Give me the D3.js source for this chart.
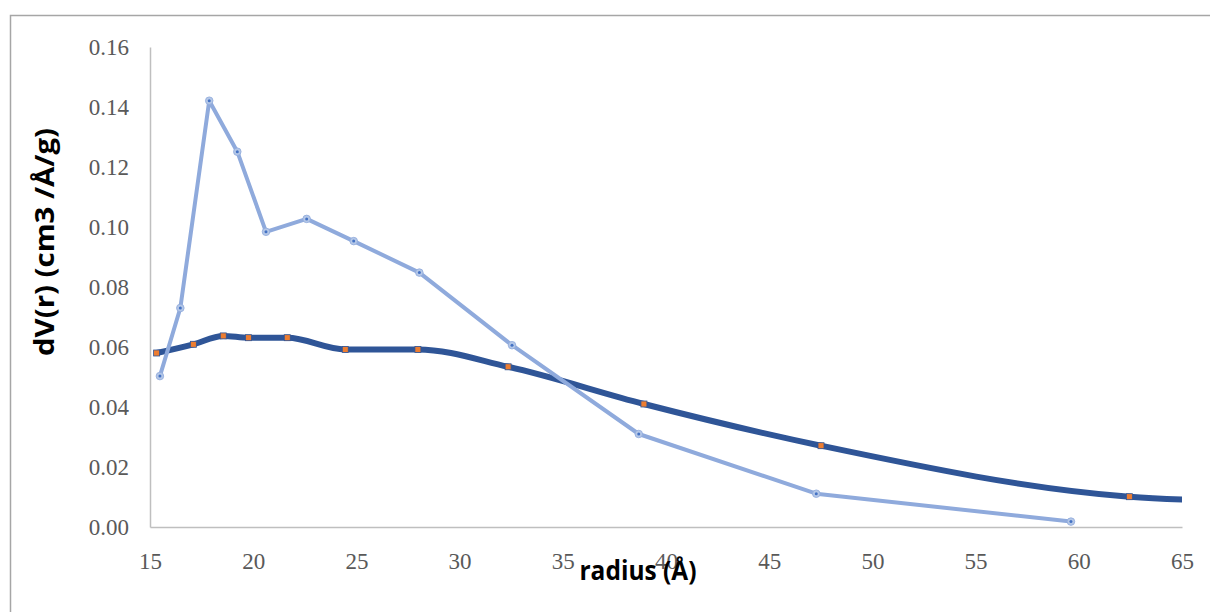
<!DOCTYPE html>
<html>
<head>
<meta charset="utf-8">
<script src="https://cdn.jsdelivr.net/npm/d3@7"></script>
<style>
  body { margin: 0; background: #fff; }
  .tick text { font-family: "Liberation Serif", "Times New Roman", serif; font-size: 23px; fill: #595959; }
  .axis-title { font-family: "Open Sans", "Liberation Sans", sans-serif; font-weight: bold; font-size: 26px; fill: #000; }
</style>
</head>
<body>
<svg id="chart"></svg>
<script>
// light series (circle markers)
const lightX = [15.48, 16.47, 17.87, 19.23, 20.62, 22.59, 24.87, 28.05, 32.54, 38.68, 47.28, 59.62];
const lightY = [0.0503, 0.0730, 0.1421, 0.1251, 0.0984, 0.1027, 0.0953, 0.0848, 0.0606, 0.0310, 0.0111, 0.0018];

// dark series (square markers), last point runs past the axis end
const darkX = [15.32, 17.10, 18.55, 19.77, 21.65, 24.46, 27.98, 32.35, 38.93, 47.51, 62.45, 68.0];
const darkY = [0.0580, 0.0609, 0.0637, 0.0631, 0.0631, 0.0592, 0.0592, 0.0534, 0.0410, 0.0271, 0.0101, 0.0085];

const xTicks = [15, 20, 25, 30, 35, 40, 45, 50, 55, 60, 65];
const yTicks = [0, 0.02, 0.04, 0.06, 0.08, 0.10, 0.12, 0.14, 0.16];

const config = {
    width: 1210,
    height: 612,
    margin: {top: 47, right: 28, bottom: 85, left: 150}
};

const svg = d3.select('#chart')
    .attr('width', config.width)
    .attr('height', config.height);

// outer chart frame (runs off the window on the right and bottom)
svg.append('rect')
    .attr('x', 10.5)
    .attr('y', 15.5)
    .attr('width', 1220)
    .attr('height', 620)
    .attr('fill', 'none')
    .attr('stroke', '#a6a6a6')
    .attr('stroke-width', 1.5);

const innerW = config.width - config.margin.left - config.margin.right;
const innerH = config.height - config.margin.top - config.margin.bottom;

const g = svg.append('g')
    .attr('transform', `translate(${config.margin.left},${config.margin.top})`);

const xScale = d3.scaleLinear().domain([15, 65]).range([0, innerW]);
const yScale = d3.scaleLinear().domain([0, 0.16]).range([innerH, 0]);

const xAxis = d3.axisBottom(xScale).tickValues(xTicks).tickSize(0).tickPadding(26).tickFormat(d3.format('d'));
const yAxis = d3.axisLeft(yScale).tickValues(yTicks).tickSize(0).tickPadding(21).tickFormat(d3.format('.2f'));

g.append('g')
    .attr('class', 'axis x-axis')
    .attr('transform', `translate(0,${innerH})`)
    .call(xAxis)
    .call(a => a.select('.domain').attr('stroke', '#bfbfbf').attr('stroke-width', 1.5));

g.append('g')
    .attr('class', 'axis y-axis')
    .call(yAxis)
    .call(a => a.select('.domain').attr('stroke', '#bfbfbf').attr('stroke-width', 1.5));

// clip marks to plot area
g.append('defs').append('clipPath')
    .attr('id', 'plot-clip')
    .append('rect')
    .attr('x', -10)
    .attr('y', -10)
    .attr('width', innerW + 10)
    .attr('height', innerH + 20);

const plot = g.append('g').attr('clip-path', 'url(#plot-clip)');

const darkData = darkX.map((x, i) => ({x, y: darkY[i]}));
const lightData = lightX.map((x, i) => ({x, y: lightY[i]}));

const darkLine = d3.line()
    .x(d => xScale(d.x))
    .y(d => yScale(d.y))
    .curve(d3.curveMonotoneX);

const lightLine = d3.line()
    .x(d => xScale(d.x))
    .y(d => yScale(d.y));

plot.append('path')
    .datum(darkData)
    .attr('d', darkLine)
    .attr('fill', 'none')
    .attr('stroke', '#2f5597')
    .attr('stroke-width', 6)
    .attr('stroke-linejoin', 'round');

plot.selectAll('.sq')
    .data(darkData.filter(d => d.x <= 65))
    .join('rect')
    .attr('class', 'sq')
    .attr('x', d => xScale(d.x) - 3)
    .attr('y', d => yScale(d.y) - 3)
    .attr('width', 6)
    .attr('height', 6)
    .attr('fill', '#ed7d31')
    .attr('stroke', '#2f5597')
    .attr('stroke-width', 0.8);

plot.append('path')
    .datum(lightData)
    .attr('d', lightLine)
    .attr('fill', 'none')
    .attr('stroke', '#8faadc')
    .attr('stroke-width', 4)
    .attr('stroke-linejoin', 'round');

plot.selectAll('.dot')
    .data(lightData)
    .join('circle')
    .attr('class', 'dot')
    .attr('cx', d => xScale(d.x))
    .attr('cy', d => yScale(d.y))
    .attr('r', 3.8)
    .attr('fill', '#b4c7e7')
    .attr('stroke', '#8faadc')
    .attr('stroke-width', 0.8);

plot.selectAll('.dot-c')
    .data(lightData)
    .join('circle')
    .attr('class', 'dot-c')
    .attr('cx', d => xScale(d.x))
    .attr('cy', d => yScale(d.y))
    .attr('r', 1.5)
    .attr('fill', '#4472c4');

// axis titles
svg.append('text')
    .attr('class', 'axis-title')
    .attr('text-anchor', 'middle')
    .attr('transform', 'translate(54,242) rotate(-90)')
    .attr('textLength', 228)
    .attr('lengthAdjust', 'spacingAndGlyphs')
    .text('dV(r) (cm3 /Å/g)');

svg.append('text')
    .attr('class', 'axis-title')
    .attr('text-anchor', 'middle')
    .attr('x', 638)
    .attr('y', 580)
    .attr('textLength', 117)
    .attr('lengthAdjust', 'spacingAndGlyphs')
    .text('radius (Å)');
</script>
</body>
</html>
